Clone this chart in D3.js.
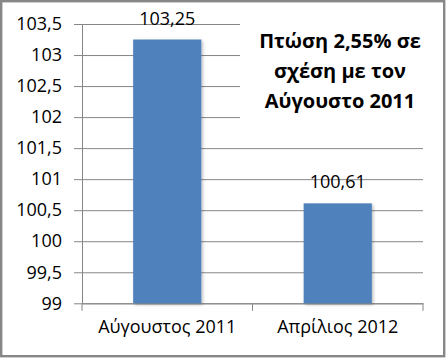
<!DOCTYPE html>
<html>
<head>
<meta charset="utf-8">
<script src="https://cdn.jsdelivr.net/npm/d3@7"></script>
<style>
  body { margin: 0; background: #fff; }
</style>
</head>
<body>
<script>
let categories = ["Αύγουστος 2011", "Απρίλιος 2012"];
let values = [103.25, 100.61];
let yTicks = [99, 99.5, 100, 100.5, 101, 101.5, 102, 102.5, 103, 103.5];
let note = ["Πτώση 2,55% σε", "σχέση με τον", "Αύγουστο 2011"];

let width = 448;
let height = 358;
let margins = { top: 24, bottom: 54.7, left: 82, right: 25 };
let font = "'Open Sans', sans-serif";
let grey = "#868686";

let fmt = d => String(d).replace(".", ",");

let xScale = d3.scaleBand(categories, [margins.left, width - margins.right])
  .paddingInner(0.6)
  .paddingOuter(0.3);

let yScale = d3.scaleLinear([99, 103.5], [height - margins.bottom, margins.top]);

let svg = d3.create("svg")
  .attr("width", width)
  .attr("height", height);

let defs = svg.append("defs");
defs.append("filter")
  .attr("id", "shadow")
  .attr("x", "-20%").attr("y", "-20%")
  .attr("width", "140%").attr("height", "140%")
  .append("feDropShadow")
  .attr("dx", 1.5).attr("dy", 1.5)
  .attr("stdDeviation", 1.5)
  .attr("flood-color", "#000")
  .attr("flood-opacity", 0.25);

// outer frame
svg.append("rect")
  .attr("x", 1.2).attr("y", 1.2)
  .attr("width", 443).attr("height", 355)
  .attr("fill", "#fff")
  .attr("stroke", "#878787")
  .attr("stroke-width", 2.4);

// y axis with gridlines
let yAxis = d3.axisLeft(yScale)
  .tickValues(yTicks)
  .tickFormat(fmt)
  .tickSize(8)
  .tickPadding(12)
  .tickSizeOuter(0);

let gy = svg.append("g")
  .attr("transform", `translate(${margins.left},0)`)
  .call(yAxis);
gy.select(".domain").attr("stroke", grey);
gy.selectAll(".tick line").attr("stroke", grey);
gy.selectAll(".tick text")
  .attr("font-family", font)
  .attr("font-size", 18)
  .attr("fill", "#000");
gy.selectAll(".tick")
  .append("line")
  .attr("x1", 0)
  .attr("x2", width - margins.left - margins.right)
  .attr("stroke", grey);

// x axis: labels at band centres, ticks at band edges
let xAxis = d3.axisBottom(xScale)
  .tickSize(0)
  .tickPadding(17)
  .tickSizeOuter(0);

let gx = svg.append("g")
  .attr("transform", `translate(0,${height - margins.bottom})`)
  .call(xAxis);
gx.select(".domain").attr("stroke", grey);
gx.selectAll(".tick text")
  .attr("font-family", font)
  .attr("font-size", 18)
  .attr("fill", "#000");

let edges = [margins.left].concat(categories.map(c => xScale(c) + xScale.bandwidth() + xScale.step() * 0.3));
gx.selectAll(".edge")
  .data(edges)
  .join("line")
  .attr("class", "edge")
  .attr("x1", d => d).attr("x2", d => d)
  .attr("y1", 0).attr("y2", 7.5)
  .attr("stroke", grey);

// white note box over the gridlines
svg.append("rect")
  .attr("x", 240).attr("y", 16)
  .attr("width", 190).attr("height", 110)
  .attr("fill", "#fff");

svg.append("g")
  .selectAll("text")
  .data(note)
  .join("text")
  .text(d => d)
  .attr("x", 340)
  .attr("y", (d, i) => 48 + i * 30)
  .attr("font-family", font)
  .attr("font-weight", "bold")
  .attr("font-size", 20)
  .attr("text-anchor", "middle")
  .attr("fill", "#000");

// bars
let data = d3.zip(categories, values);

svg.append("g")
  .selectAll("rect")
  .data(data)
  .join("rect")
  .attr("x", d => xScale(d[0]))
  .attr("y", d => yScale(d[1]))
  .attr("width", xScale.bandwidth())
  .attr("height", d => yScale(99) - yScale(d[1]))
  .attr("fill", "#4F81BD")
  .attr("filter", "url(#shadow)");

svg.append("g")
  .selectAll("text")
  .data(data)
  .join("text")
  .text(d => fmt(d[1]))
  .attr("x", d => xScale(d[0]) + xScale.bandwidth() / 2)
  .attr("y", d => yScale(d[1]) - 15)
  .attr("font-family", font)
  .attr("font-size", 18)
  .attr("text-anchor", "middle")
  .attr("fill", "#000");

document.body.append(svg.node());
</script>
</body>
</html>
